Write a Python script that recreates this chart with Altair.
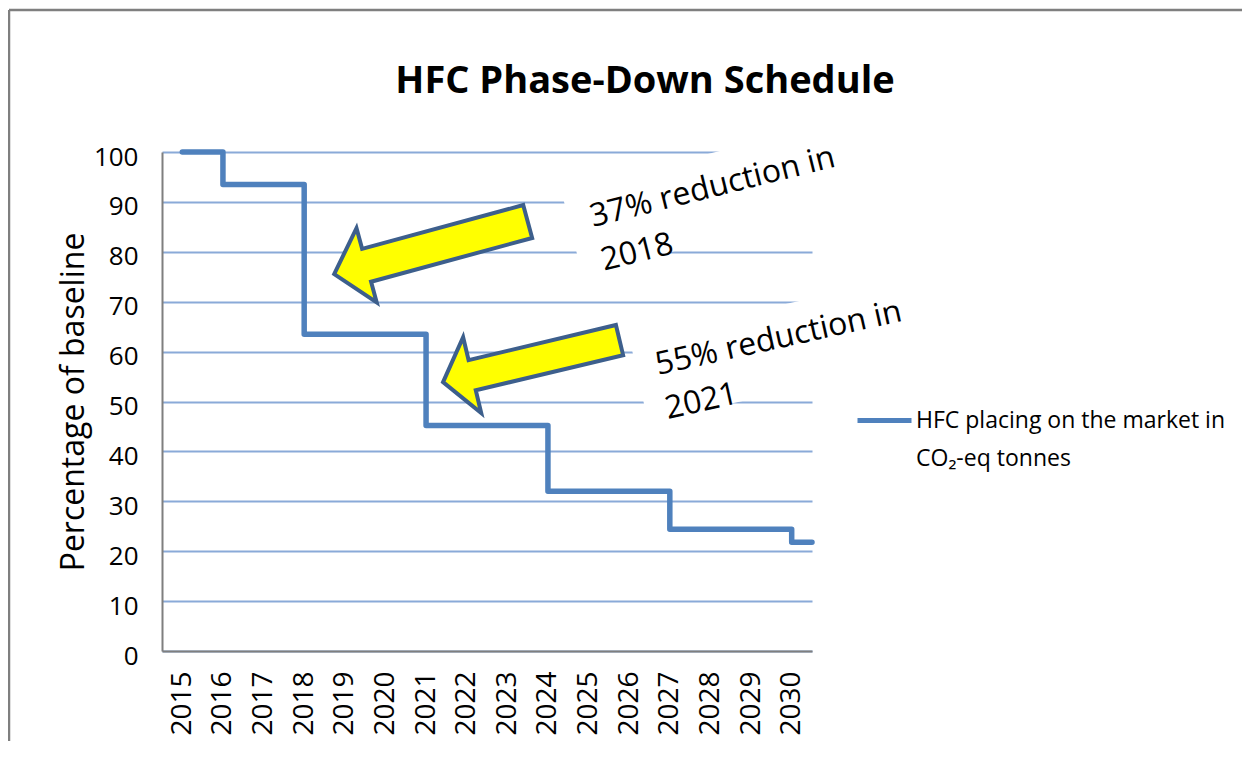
import altair as alt
import pandas as pd

# ---------------- data ----------------
title_text = "HFC Phase-Down Schedule"
y_title = "Percentage of baseline"
series_name = "HFC placing on the market in\nCO₂-eq tonnes"

years = [2015, 2016, 2017, 2018, 2019, 2020, 2021, 2022,
         2023, 2024, 2025, 2026, 2027, 2028, 2029, 2030]
percent = [100, 93.5, 93.5, 63.5, 63.5, 63.5, 45.2, 45.2,
           45.2, 32, 32, 32, 24.4, 24.4, 24.4, 21.8]
x_min, x_max = 2014.5, 2030.5          # axis edges (half a year either side)
y_ticks = [0, 10, 20, 30, 40, 50, 60, 70, 80, 90, 100]

note_text = ["37% reduction in\n2018", "55% reduction in\n2021"]
note_year = [2025.11, 2026.71]
note_pct = [84.97, 55.3]
note_angle = [346, 347.5]

box_year = [2028.01, 2029.66]
box_pct = [90.86, 60.42]

arrow_year = [2021.12, 2023.59]
arrow_pct = [80.8, 58.1]
arrow_angle = [344.8, 346.6]

# ---------------- styles ----------------
FONT = "Open Sans"
LINE_BLUE = "#4f81bd"
GRID_BLUE = "#8aaad8"
ARROW_EDGE = "#3d5f8c"
ARROW_FILL = "#ffff00"
FRAME_GREY = "#7f7f7f"

arrow_paths = [
    "M -1 0 L -0.665 -0.384 L -0.665 -0.17 L 1 -0.17 L 1 0.17 L -0.665 0.17 L -0.665 0.384 Z",
    "M -1 0 L -0.67 -0.43 L -0.67 -0.171 L 1 -0.171 L 1 0.171 L -0.67 0.171 L -0.67 0.43 Z",
]
arrow_sizes = [200.5 ** 2, 181.4 ** 2]
box_path = "M -1 -0.3 L 1 -0.3 L 1 0.3 L -1 0.3 Z"
box_sizes = [287 ** 2, 285 ** 2]
box_angles = [346, 347.5]

W, H = 650, 499

# ---------------- tables ----------------
line_df = pd.DataFrame({
    "year": years + [x_max],
    "pct": percent + [percent[-1]],
    "series": series_name,
})

x_scale = alt.Scale(domain=[x_min, x_max], nice=False, zero=False)
y_scale = alt.Scale(domain=[0, 100], nice=False)

x_axis = alt.Axis(values=years, format="d", labelAngle=270, labelAlign="right",
                  labelBaseline="middle", labelFontSize=28, labelFont=FONT,
                  labelColor="black", labelPadding=20, labelFlush=False,
                  labelOverlap=False, ticks=False, grid=False, domainColor=FRAME_GREY,
                  domainWidth=2, title=None)
y_axis = alt.Axis(values=y_ticks, labelFontSize=26, labelFont=FONT, labelColor="black",
                  labelPadding=24, labelOffset=5, ticks=False, grid=True,
                  gridColor=GRID_BLUE, gridWidth=1.8, domainColor=FRAME_GREY, domainWidth=2,
                  title=y_title, titleFont=FONT, titleFontSize=32,
                  titleFontWeight="normal", titleColor="black", titlePadding=3)

base_x = alt.X("year:Q", scale=x_scale, axis=x_axis)
base_y = alt.Y("pct:Q", scale=y_scale, axis=y_axis)

line = alt.Chart(line_df).mark_line(
    interpolate="step-after", strokeWidth=5.5, strokeCap="round", strokeJoin="round"
).encode(
    x=base_x, y=base_y,
    color=alt.Color("series:N", scale=alt.Scale(range=[LINE_BLUE]),
                    legend=alt.Legend(title=None, orient="none", legendX=693, legendY=239,
                                      symbolType="stroke", symbolSize=2916,
                                      symbolStrokeWidth=5, labelFont=FONT,
                                      labelFontSize=23, labelColor="black",
                                      labelOffset=2, labelLimit=400, padding=0,
                                      labelExpr="split(datum.label, '\\n')")),
)

layers = []
for i in range(2):
    bdf = pd.DataFrame({"year": [box_year[i]], "pct": [box_pct[i]]})
    layers.append(alt.Chart(bdf).mark_point(
        shape=box_path, filled=True, fill="white", opacity=1, strokeWidth=0,
        size=box_sizes[i], angle=box_angles[i]
    ).encode(x=alt.X("year:Q", scale=x_scale), y=alt.Y("pct:Q", scale=y_scale)))

tdf = pd.DataFrame({"year": note_year, "pct": note_pct, "txt": note_text, "ang": note_angle})
text = alt.Chart(tdf).mark_text(
    align="left", baseline="alphabetic", font=FONT, fontSize=32, lineHeight=45,
    lineBreak="\n", color="black"
).encode(x=alt.X("year:Q", scale=x_scale), y=alt.Y("pct:Q", scale=y_scale),
         text="txt:N", angle=alt.Angle("ang:Q", scale=None))
layers.append(text)

for i in range(2):
    adf = pd.DataFrame({"year": [arrow_year[i]], "pct": [arrow_pct[i]]})
    layers.append(alt.Chart(adf).mark_point(
        shape=arrow_paths[i], filled=True, fill=ARROW_FILL, opacity=1,
        stroke=ARROW_EDGE, strokeWidth=4, strokeJoin="miter",
        size=arrow_sizes[i], angle=arrow_angle[i]
    ).encode(x=alt.X("year:Q", scale=x_scale), y=alt.Y("pct:Q", scale=y_scale)))

# outer frame of the picture (top and left edges)
frame_df = pd.DataFrame({"k": [0]})
frame_top = alt.Chart(frame_df).mark_rule(color=FRAME_GREY, strokeWidth=2.5).encode(
    x=alt.value(-153), x2=alt.value(1100), y=alt.value(-142))
frame_left = alt.Chart(frame_df).mark_rule(color=FRAME_GREY, strokeWidth=2.5).encode(
    x=alt.value(-153), y=alt.value(-142), y2=alt.value(700))
layers += [frame_top, frame_left]

# the title is placed relative to the full drawing bounds (which start at the frame)
chart = alt.layer(line, *layers).properties(
    width=W, height=H,
    title=alt.TitleParams(title_text, font=FONT, fontSize=38, fontWeight="bold",
                          color="black", anchor="middle", dx=158, offset=-92),
    padding={"left": 154, "top": 144, "right": 430, "bottom": 90},
    autosize=alt.AutoSizeParams(type="none"),
).configure(
    style={"guide-label": {"lineHeight": 38}}
).configure_view(strokeWidth=0)

chart.save("out.html", embed_options={"renderer": "svg", "actions": False})
